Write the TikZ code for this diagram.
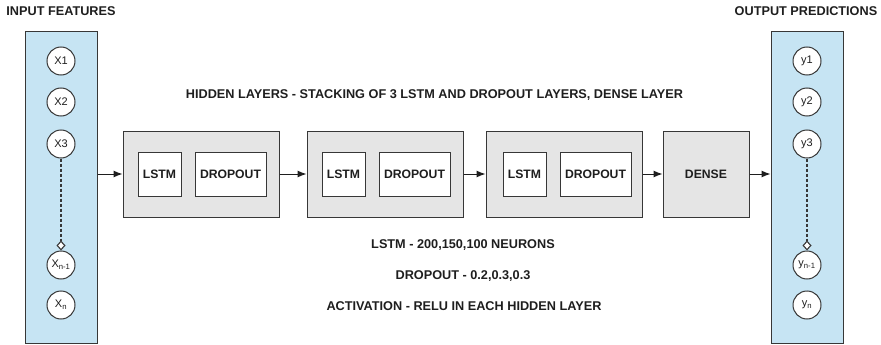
\documentclass[tikz,border=0pt]{standalone}
\usepackage{fontspec}
\setmainfont{Liberation Sans}
\usetikzlibrary{arrows.meta,positioning}
\definecolor{panelblue}{RGB}{198,228,243}
\definecolor{layergray}{RGB}{229,229,229}
\definecolor{edge}{RGB}{55,55,55}
\definecolor{ink}{RGB}{30,30,30}

\begin{document}
\begin{tikzpicture}[x=1pt,y=-1pt,text=ink,
panel/.style={draw=edge,fill=panelblue,minimum width=72pt,minimum height=311pt,line width=1pt},
layer/.style={draw=edge,fill=layergray,minimum width=156pt,minimum height=86pt,line width=1pt},
inbox/.style={draw=edge,fill=white,minimum height=44pt,inner sep=0pt,font=\fontsize{12.2}{14}\selectfont\bfseries,line width=1pt},
unit/.style={circle,draw=edge,fill=white,minimum size=28pt,inner sep=0pt,font=\fontsize{11}{12}\selectfont,line width=1pt},
title/.style={font=\fontsize{12.7}{15}\selectfont\bfseries},
arr/.style={-{Latex[length=9pt,width=7pt]},line width=1pt,draw=ink},
skipline/.style={draw=edge,line width=1.1pt,dash pattern=on 3pt off 2pt,-{Diamond[open,fill=white,length=10pt,width=9pt]}}]
\useasboundingbox (0,0) rectangle (881,345);
% input and output panels
\node[panel] (inp) at (61,187.5) {};
\node[panel] (outp) at (807,187.5) {};
\node[title] (inlbl) at (61,11) {INPUT FEATURES};
\node[title] (outlbl) at (806,11) {OUTPUT PREDICTIONS};
\node[unit] (x1) at (61,61) {X1};
\node[unit] (x2) at (61,102) {X2};
\node[unit] (x3) at (61,144) {X3};
\node[unit] (xn1) at (61,265) {X\textsubscript{n-1}};
\node[unit] (xn) at (61,305) {X\textsubscript{n}};
\node[unit] (y1) at (807,61) {y1};
\node[unit] (y2) at (807,102) {y2};
\node[unit] (y3) at (807,144) {y3};
\node[unit] (yn1) at (807,265) {y\textsubscript{n-1}};
\node[unit] (yn) at (807,305) {y\textsubscript{n}};
\draw[skipline] (x3) -- (xn1);
\draw[skipline] (y3) -- (yn1);
% hidden layers
\node[layer] (b1) at (201,174) {};
\node[layer] (b2) at (385,174) {};
\node[layer] (b3) at (564,174) {};
\node[layer,minimum width=86pt,font=\fontsize{12.2}{14}\selectfont\bfseries] (dense) at (706,174) {DENSE};
\node[inbox,minimum width=43pt,right=15pt of b1.west] (l1) {LSTM};
\node[inbox,minimum width=71pt,right=13pt of l1] (d1) {DROPOUT};
\node[inbox,minimum width=43pt,right=15pt of b2.west] (l2) {LSTM};
\node[inbox,minimum width=71pt,right=13pt of l2] (d2) {DROPOUT};
\node[inbox,minimum width=43pt,right=17pt of b3.west] (l3) {LSTM};
\node[inbox,minimum width=71pt,right=13pt of l3] (d3) {DROPOUT};
\draw[arr] (b1.west -| inp.east) -- (b1.west);
\draw[arr] (b1) -- (b2);
\draw[arr] (b2) -- (b3);
\draw[arr] (b3) -- (dense);
\draw[arr] (dense.east) -- (dense.east -| outp.west);
% notes
\node[title] (hidlbl) at (434.5,95) {HIDDEN LAYERS - STACKING OF 3 LSTM AND DROPOUT LAYERS, DENSE LAYER};
\node[title] (neur) at (463,245) {LSTM - 200,150,100 NEURONS};
\node[title] (drop) at (463,276) {DROPOUT - 0.2,0.3,0.3};
\node[title] (act) at (464,306) {ACTIVATION - RELU IN EACH HIDDEN LAYER};
\end{tikzpicture}
\end{document}
